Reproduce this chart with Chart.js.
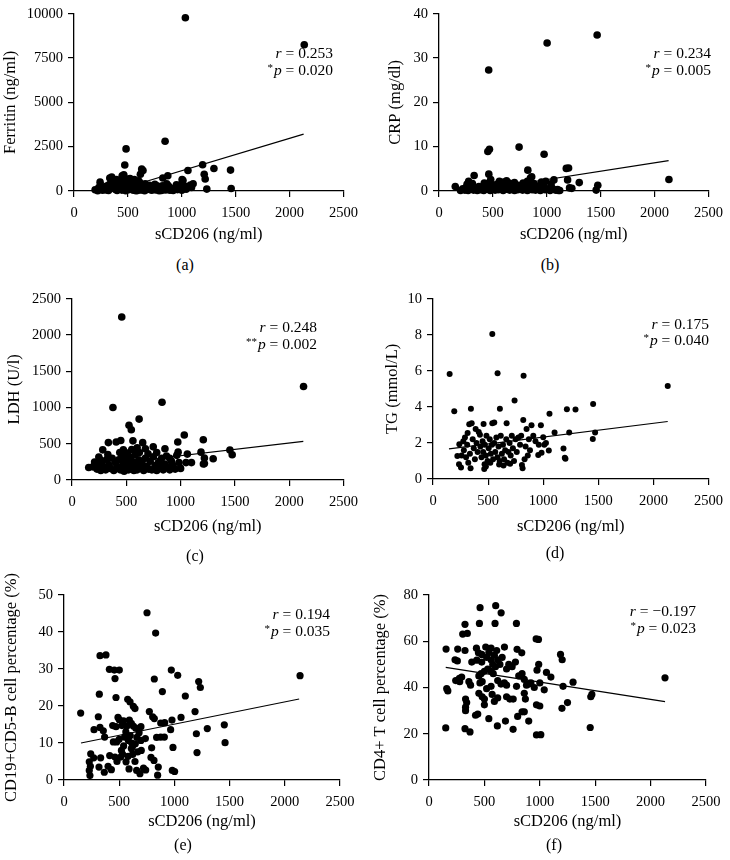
<!DOCTYPE html>
<html><head><meta charset="utf-8">
<script src="https://cdn.jsdelivr.net/npm/chart.js@4.4.1/dist/chart.umd.min.js"></script>
<style>
html,body{margin:0;padding:0;background:#fff;}
body{width:730px;height:860px;position:relative;overflow:hidden;font-family:"Liberation Serif",serif;}
canvas{position:absolute;}
.cap{position:absolute;font-size:16px;color:#000;transform:translate(-50%,-50%);white-space:nowrap;font-family:"Liberation Serif",serif;}
</style></head><body>
<script>
// ---------- data ----------
const xTicks = [0, 500, 1000, 1500, 2000, 2500];
const ferritinTicks = [0, 2500, 5000, 7500, 10000];
const crpTicks = [0, 10, 20, 30, 40];
const ldhTicks = [0, 500, 1000, 1500, 2000, 2500];
const tgTicks = [0, 2, 4, 6, 8, 10];
const bcellTicks = [0, 10, 20, 30, 40, 50];
const cd4Ticks = [0, 20, 40, 60, 80];

const ferritinPoints = [[1033,9768],[2136,8247],[845,2810],[483,2375],[471,1463],[447,857],[462,910],[616,946],[640,1160],[628,1240],[332,732],[350,780],[242,500],[1193,1481],[1298,1267],[1452,1178],[1057,1160],[1208,946],[1217,678],[1011,589],[999,410],[1105,410],[870,857],[1232,107],[1458,143],[824,732],[1003,644],[1060,250],[1080,330],[361,573],
[196,70],[220,20],[250,120],[265,40],[280,180],[300,60],[310,300],[320,30],[340,140],[355,400],[370,220],[385,90],[400,30],[410,310],[420,160],[430,260],[445,50],[455,350],[465,120],[480,20],[490,200],[500,450],[510,80],[520,300],[530,560],[540,150],[550,40],[560,250],[570,380],[580,100],[590,30],[600,200],[610,470],[620,130],[630,60],[645,300],[655,20],[665,180],[680,90],[700,250],[720,40],[740,150],[760,60],[780,220],[800,120],[810,30],[820,300],[835,180],[850,60],[860,400],[880,250],[900,100],[920,30],[940,200],[960,80],[980,150],[1000,40],[1020,300],[1040,100],[1090,200],[560,650],[600,580],[520,700],[700,320],[750,380],[870,320],[950,350],[230,200],[290,250],[330,380],[375,500],[395,650],[415,420],[440,600],[475,700],[505,180],[535,330],[575,20],[615,70],[660,400],[690,150],[730,90],[770,300],[790,20],[830,80],[890,40],[930,120]];
const ferritinFit = [[380,14],[2130,3210]];

const crpPoints = [[1467,35.2],[1003,33.4],[461,27.3],[453,8.9],[468,9.4],[743,9.9],[975,8.3],[824,4.7],[1202,5.2],[1181,5.1],[326,3.5],[462,3.8],[848,2.9],[860,3.2],[1193,2.5],[1301,1.9],[1066,2.5],[990,2.2],[275,2.2],[151,1.0],[1473,1.3],[1458,0.2],[1232,0.6],[1211,0.7],[2133,2.6],[627,2.3],[467,1.9],[536,1.5],[732,1.3],[1108,0.1],
[200,0.1],[220,0.5],[240,0.2],[255,0.8],[270,0.1],[290,0.4],[305,0.9],[320,0.2],[340,0.6],[355,0.1],[370,1.0],[385,0.3],[400,0.7],[415,0.1],[430,1.2],[445,0.4],[460,0.8],[475,0.1],[490,1.4],[505,0.5],[520,0.2],[535,0.9],[550,0.3],[565,1.6],[580,0.6],[595,0.1],[610,1.1],[625,0.4],[640,0.8],[655,0.2],[670,1.4],[685,0.5],[700,0.1],[715,0.9],[730,0.3],[745,1.2],[760,0.6],[775,0.2],[790,1.0],[805,0.4],[820,0.1],[835,0.8],[850,1.5],[865,0.3],[880,0.6],[895,0.2],[910,1.1],[925,0.4],[940,0.1],[955,0.7],[970,1.6],[985,0.3],[1010,0.5],[1030,0.1],[1050,0.6],[1080,0.2],[1100,0.3],[1120,0.1],[260,1.5],[310,1.7],[420,1.8],[480,2.6],[600,2.0],[650,1.8],[700,1.9],[780,1.8],[880,1.7],[950,2.0],[1040,1.6],[560,2.2],[820,2.2]];
const crpFit = [[320,0.0],[2130,6.87]];

const ldhPoints = [[458,2248],[2132,1290],[377,1000],[829,1072],[618,840],[525,755],[546,692],[1034,620],[1209,556],[974,525],[335,516],[407,525],[449,545],[561,540],[651,515],[748,457],[283,416],[473,416],[600,443],[676,430],[856,430],[977,384],[1062,357],[1188,384],[1454,412],[1475,348],[1300,294],[1219,226],[1219,303],[247,317],[208,249],[154,172],[193,181],
[230,150],[250,220],[265,130],[280,260],[295,180],[310,140],[325,290],[340,210],[355,160],[370,300],[385,130],[400,240],[415,190],[430,280],[445,140],[460,330],[470,200],[480,120],[490,260],[500,170],[510,370],[520,140],[530,230],[540,310],[550,160],[560,250],[570,130],[580,350],[590,200],[600,140],[615,280],[630,180],[645,230],[660,130],[675,300],[690,190],[705,150],[720,260],[735,140],[750,320],[765,200],[780,130],[795,240],[810,170],[825,300],[840,140],[855,220],[870,330],[885,180],[900,140],[915,260],[930,200],[950,150],[965,340],[985,240],[1000,160],[1050,240],[1100,240],[1210,220],[500,300],[440,380],[550,420],[700,360],[620,380],[330,350],[260,280],[900,300],[780,380]];
const ldhFit = [[150,186],[2130,533]];

const tgPoints = [[538,8.04],[151,5.82],[586,5.87],[822,5.73],[2130,5.16],[740,4.36],[193,3.76],[344,3.89],[607,3.89],[1215,3.87],[1293,3.85],[1453,4.16],[1057,3.62],[819,3.27],[351,3.09],[329,3.04],[459,3.05],[538,3.09],[556,3.13],[668,3.09],[894,2.98],[979,2.98],[849,2.78],[387,2.78],[314,2.55],[1103,2.58],[1236,2.58],[1471,2.58],[1450,2.22],[1000,2.31],[426,2.45],[239,1.93],[275,2.09],[1184,1.69],[1196,1.18],[1202,1.13],[1051,1.58],[955,1.33],[985,1.45],[831,1.09],[813,0.6],[807,0.78],[465,0.55],[468,0.82],[236,0.82],[254,0.64],[341,0.6],[221,1.27],
[260,1.3],[280,1.6],[290,2.3],[300,1.2],[310,1.9],[320,0.9],[335,1.4],[360,2.2],[370,1.7],[380,1.1],[395,2.0],[405,1.5],[415,2.6],[430,1.8],[440,1.2],[450,2.1],[455,1.5],[470,1.9],[480,1.3],[485,2.4],[495,1.0],[505,1.7],[515,2.2],[525,1.4],[535,1.9],[545,1.1],[555,2.0],[565,1.5],[575,2.3],[585,1.2],[595,1.8],[605,1.0],[615,2.4],[625,1.4],[635,1.9],[645,1.1],[655,1.6],[665,2.2],[675,0.9],[685,1.5],[695,2.0],[705,1.3],[715,2.4],[725,1.7],[735,1.0],[750,2.2],[760,1.5],[775,2.3],[790,1.9],[800,2.4],[840,1.8],[860,1.3],[870,2.2],[880,1.6],[910,2.4],[930,2.1],[960,1.9],[1010,1.9],[1025,2.0],[480,0.7],[520,0.9],[600,0.8],[640,0.75],[700,0.85]];
const tgFit = [[145,1.67],[2130,3.19]];

const bcellPoints = [[151,18.1],[752,45.2],[830,39.7],[326,33.6],[380,33.8],[411,29.9],[456,29.7],[501,29.7],[462,27.4],[818,27.3],[972,29.7],[1030,28.3],[2138,28.2],[1220,26.6],[1235,25],[891,23.9],[1099,22.7],[320,23.2],[471,22.3],[577,21.8],[598,21.1],[628,19.9],[643,19.3],[773,18.5],[1187,18.5],[803,17.1],[818,16.6],[1060,16.9],[311,17.1],[489,16.9],[501,16.3],[592,16.2],[272,13.6],[326,14.2],[356,13.3],[441,14.7],[471,14.4],[525,14.7],[568,14.5],[628,14.6],[697,14.4],[876,15.4],[912,15.5],[978,16.2],[966,13.6],[1298,13.9],[1452,14.9],[1459,10.1],[1199,12.5],[1205,7.4],[368,11.6],[447,10.3],[477,10.3],[549,11.6],[583,10.7],[613,10.0],[646,9.8],[697,10.7],[737,11.2],[839,11.5],[876,11.6],[909,11.6],[987,8.8],[794,8.7],[242,7.1],[269,6.0],[332,6.0],[414,6.6],[462,6.2],[513,6.2],[580,6.4],[622,6.9],[667,7.6],[229,4.9],[239,3.7],[229,2.6],[235,1.2],[317,3.5],[399,3.7],[429,2.8],[365,2.1],[562,4.9],[589,3.0],[643,5.0],[658,2.6],[688,1.7],[740,2.7],[788,6.1],[815,5.3],[854,3.5],[848,1.3],[981,2.6],[1002,2.3],
[520,8],[540,9.2],[600,12],[560,13],[610,15.3],[650,14],[700,8],[720,3.2],[480,5],[500,11],[530,7],[620,9],[660,11.5],[540,16],[610,8.5],[680,12.8]];
const bcellFit = [[154,10.0],[2130,21.9]];

const cd4Points = [[461,74.5],[602,75.4],[651,72.3],[455,67.7],[596,67.7],[789,67.7],[325,67.3],[304,63.1],[346,63.4],[967,61],[988,60.8],
[154,56.6],[259,56.6],[325,56],[235,52],[256,51.5],[428,57],[446,55],[476,54.3],[512,57.5],[560,57],[611,56],[681,57.5],[795,56.5],[837,55],[1187,54.3],[1202,52],
[386,51],[431,51.8],[476,51],[520,53],[540,55],[560,52],[575,50],[590,54],[600,49],[620,52],[640,50],[660,53],[700,48],[720,50],[750,49],[780,51],[560,47],[580,46],[530,48],[500,47],[470,46],[450,45],[990,50],[975,47.5],[1060,46.5],[1100,44.5],[840,46],[810,45],[860,43.5],
[160,39.5],[170,38.5],[241,43],[274,44],[277,42.5],[295,44.5],[360,42.5],[375,41],[460,42],[480,42.5],[520,39.5],[560,40.5],[620,43],[650,41.5],[680,42],[700,41],[790,40.5],[880,41],[900,41.5],[920,42],[950,40],[1000,42],[1040,39],[1210,40.5],[1300,42.3],[1250,33.5],[1200,31],[2130,44.2],[1460,36],[1470,37],
[330,35],[340,33.5],[450,37.5],[480,36],[500,35],[570,37],[590,34],[620,35.5],[700,36],[730,35],[760,35],[860,37.5],[870,35],[970,32.5],[1000,32],
[330,30],[330,31.5],[420,28],[440,28.5],[500,32.5],[840,29.5],[860,29.5],[900,25.5],[800,27.5],[540,26.5],[690,25.5],
[151,22.5],[325,22.2],[370,20.8],[617,23.4],[759,21.9],[970,19.5],[1009,19.6],[1455,22.7]];
const cd4Fit = [[151,48.7],[2130,33.9]];

// ---------- panel texts ----------
const xTitle = 'sCD206 (ng/ml)';
const panels = [
  {pts: ferritinPoints, fit: ferritinFit, yTicks: ferritinTicks, yTitle: 'Ferritin (ng/ml)', r: '0.253', star: '*', p: '0.020', cap: '(a)'},
  {pts: crpPoints, fit: crpFit, yTicks: crpTicks, yTitle: 'CRP (mg/dl)', r: '0.234', star: '*', p: '0.005', cap: '(b)'},
  {pts: ldhPoints, fit: ldhFit, yTicks: ldhTicks, yTitle: 'LDH (U/l)', r: '0.248', star: '**', p: '0.002', cap: '(c)'},
  {pts: tgPoints, fit: tgFit, yTicks: tgTicks, yTitle: 'TG (mmol/L)', r: '0.175', star: '*', p: '0.040', cap: '(d)'},
  {pts: bcellPoints, fit: bcellFit, yTicks: bcellTicks, yTitle: 'CD19+CD5-B cell percentage (%)', r: '0.194', star: '*', p: '0.035', cap: '(e)'},
  {pts: cd4Points, fit: cd4Fit, yTicks: cd4Ticks, yTitle: 'CD4+ T cell percentage (%)', r: '\u22120.197', star: '*', p: '0.023', cap: '(f)'}
];

// ---------- layout (pixel placement of each panel) ----------
const layouts = [
  {l:0,   t:0,   w:365, h:250, padTop:5,  padRight:15, yW:74, xH:59, yTP:0.3,  xTP:5,    annX:333, annY1:54,  annY2:71,  capX:185, capY:265, rad:3.8},
  {l:365, t:0,   w:365, h:250, padTop:5,  padRight:14, yW:74, xH:59, yTP:20.5, xTP:5,    annX:711, annY1:54,  annY2:71,  capX:550, capY:265, rad:3.8},
  {l:0,   t:285, w:365, h:265, padTop:11, padRight:17, yW:72, xH:70, yTP:4.3,  xTP:13,   annX:317, annY1:328, annY2:345, capX:195, capY:556, rad:3.8},
  {l:365, t:285, w:365, h:265, padTop:10, padRight:21, yW:68, xH:71, yTP:17.3, xTP:13,   annX:709, annY1:325, annY2:341, capX:555, capY:553, rad:3.0},
  {l:0,   t:560, w:365, h:300, padTop:35, padRight:25, yW:64, xH:80, yTP:1.8,  xTP:28.3, annX:330, annY1:615, annY2:632, capX:183, capY:845, rad:3.6},
  {l:365, t:560, w:365, h:300, padTop:35, padRight:24, yW:64, xH:80, yTP:5.5,  xTP:28.3, annX:696, annY1:612, annY2:629, capX:554, capY:845, rad:3.6}
];

const FONT = '"Liberation Serif", "Times New Roman", serif';
const TICK_SIZE = 14.5, TITLE_SIZE = 16.5, STAT_SIZE = 15.5;
Chart.defaults.color = '#000';
Chart.defaults.font.family = FONT;

const statPlugin = {
  id: 'stat',
  afterDatasetsDraw(chart, args, o) {
    const c = chart.ctx;
    const fs = STAT_SIZE;
    const fonts = {
      italic: `italic ${fs}px ${FONT}`,
      normal: `${fs}px ${FONT}`,
      star: `${Math.round(fs*0.72)}px ${FONT}`
    };
    c.save();
    c.fillStyle = '#000';
    c.textBaseline = 'middle';
    c.textAlign = 'left';
    const draw = (segs, y) => {
      let w = 0;
      segs.forEach(s => { c.font = fonts[s[1]]; w += c.measureText(s[0]).width + (s[1] === 'star' ? 1 : 0); });
      let x = o.x - w;
      segs.forEach(s => {
        c.font = fonts[s[1]];
        c.fillText(s[0], x, s[1] === 'star' ? y - 3 : y);
        x += c.measureText(s[0]).width + (s[1] === 'star' ? 1 : 0);
      });
    };
    draw([['r','italic'],[' = ' + o.r,'normal']], o.y1);
    draw([[o.star,'star'],['p','italic'],[' = ' + o.p,'normal']], o.y2);
    c.restore();
  }
};

panels.forEach((pn, i) => {
  const L = layouts[i];
  const cv = document.createElement('canvas');
  cv.width = L.w; cv.height = L.h;
  cv.style.left = L.l + 'px'; cv.style.top = L.t + 'px';
  cv.style.width = L.w + 'px'; cv.style.height = L.h + 'px';
  document.body.appendChild(cv);

  const cap = document.createElement('div');
  cap.className = 'cap';
  cap.textContent = pn.cap;
  cap.style.left = L.capX + 'px'; cap.style.top = L.capY + 'px';
  document.body.appendChild(cap);

  const yMax = pn.yTicks[pn.yTicks.length - 1];
  new Chart(cv, {
    type: 'scatter',
    data: {
      datasets: [
        {
          data: pn.pts.map(d => ({x: d[0], y: d[1]})),
          backgroundColor: '#000', borderColor: '#000', borderWidth: 0,
          pointRadius: L.rad, pointHoverRadius: L.rad, clip: false, order: 2
        },
        {
          data: pn.fit.map(d => ({x: d[0], y: d[1]})),
          showLine: true, borderColor: '#000', borderWidth: 1.2,
          pointRadius: 0, pointHoverRadius: 0, fill: false, clip: false, order: 1
        }
      ]
    },
    options: {
      responsive: false, animation: false, devicePixelRatio: 1,
      events: [],
      layout: {padding: {top: L.padTop, right: L.padRight, left: 0, bottom: 0}},
      plugins: {
        legend: {display: false}, tooltip: {enabled: false},
        stat: {x: L.annX - L.l, y1: L.annY1 - L.t, y2: L.annY2 - L.t, r: pn.r, star: pn.star, p: pn.p}
      },
      scales: {
        x: {
          type: 'linear', min: 0, max: 2500,
          afterBuildTicks: s => { s.ticks = xTicks.map(v => ({value: v})); },
          afterFit: s => { s.height = L.xH; },
          grid: {drawOnChartArea: false, drawTicks: true, tickLength: 6, color: '#000', lineWidth: 1.2},
          border: {display: true, color: '#000', width: 1.3},
          ticks: {padding: 7, font: {size: TICK_SIZE, family: FONT}, color: '#000', maxRotation: 0, callback: v => String(v)},
          title: {display: true, text: xTitle, font: {size: TITLE_SIZE, family: FONT}, color: '#000', padding: {top: 0, bottom: L.xTP}}
        },
        y: {
          type: 'linear', min: 0, max: yMax,
          afterBuildTicks: s => { s.ticks = pn.yTicks.map(v => ({value: v})); },
          afterFit: s => { s.width = L.yW; },
          grid: {drawOnChartArea: false, drawTicks: true, tickLength: 6, color: '#000', lineWidth: 1.2},
          border: {display: true, color: '#000', width: 1.3},
          ticks: {padding: 5, font: {size: TICK_SIZE, family: FONT}, color: '#000', callback: v => String(v)},
          title: {display: true, text: pn.yTitle, font: {size: TITLE_SIZE, family: FONT}, color: '#000', padding: {top: L.yTP, bottom: 0}}
        }
      }
    },
    plugins: [statPlugin]
  });
});
</script>
</body></html>
